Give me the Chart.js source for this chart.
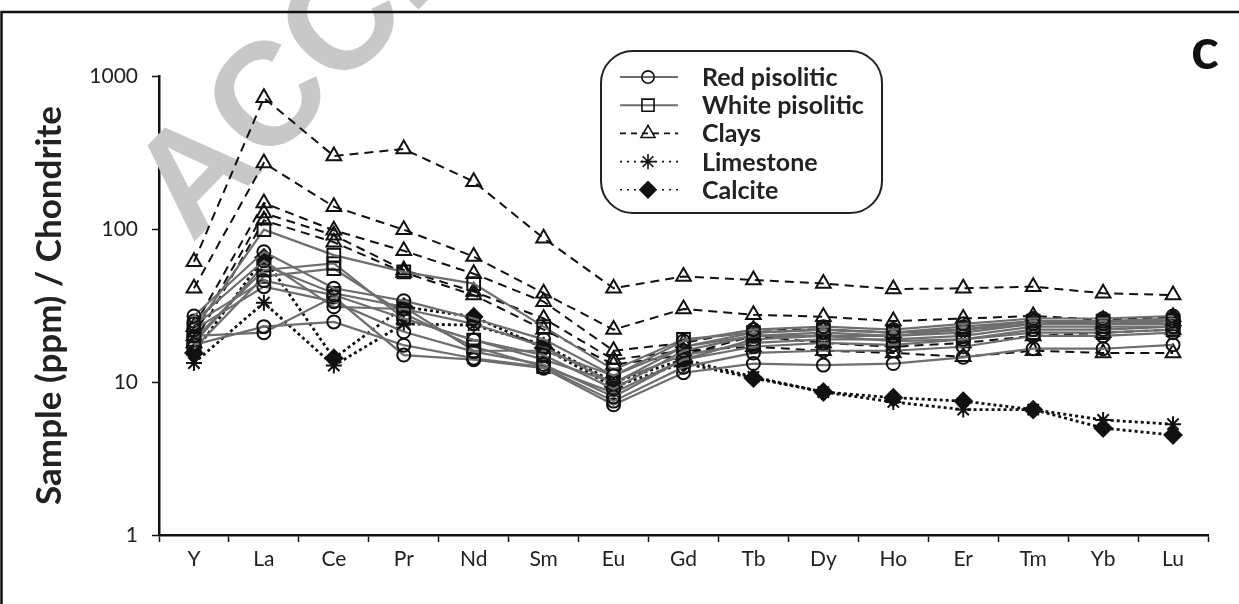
<!DOCTYPE html>
<html>
<head>
<meta charset="utf-8">
<script src="https://cdn.jsdelivr.net/npm/chart.js@4.4.1/dist/chart.umd.min.js"></script>
<style>
  html, body { margin: 0; padding: 0; background: #fff; }
  canvas { display: block; }
</style>
</head>
<body>
<canvas id="reeChart" width="1239" height="604"></canvas>
<script>
// REE normalizados a condrito
const elements = ['Y', 'La', 'Ce', 'Pr', 'Nd', 'Sm', 'Eu', 'Gd', 'Tb', 'Dy', 'Ho', 'Er', 'Tm', 'Yb', 'Lu'];
const yTicks = [1, 10, 100, 1000];

// Bauxita pisolítica roja (una fila por muestra)
const redPisolitic = [
    [27, 71, 41, 34, 26, 19, 11, 18.5, 22, 23, 22, 24, 26, 26, 27],
    [24, 46, 37, 26, 18.8, 15, 9, 16, 20, 21, 20, 22, 24, 24, 25],
    [22, 42, 33.5, 21.3, 15.8, 13, 8, 14, 17, 18, 17.5, 19, 22, 22, 23],
    [17.5, 23, 24.7, 17.4, 14.3, 12.5, 7.5, 12.5, 15.5, 16, 16, 17, 20, 20, 21],
    [20, 21, 36, 15, 14, 12.3, 7.1, 11.5, 13.2, 12.9, 13.2, 14.5, 16.5, 16.5, 17.5],
    [25, 62, 31, 30, 24, 17, 9.8, 17, 21, 22, 21, 23, 25, 25, 26]
];

// Bauxita pisolítica blanca
const whitePisolitic = [
    [22, 99, 67.5, 52.5, 44, 23, 12, 19, 21, 22, 21, 22, 25, 24, 24],
    [19, 54, 59.5, 26, 18.8, 14, 10, 15, 18, 19, 19, 20, 23, 23, 23],
    [16.5, 49, 55, 28, 17, 12.6, 8.5, 14, 19, 20, 18.5, 19, 21, 21, 22],
    [18, 58, 38, 31, 16, 16, 11, 17, 20, 20, 20, 21, 24, 25, 25]
];

// Arcillas
const clays = [
    [61, 720, 300, 333, 204, 87, 41, 49, 46.5, 44, 40.5, 41, 42, 38, 37],
    [41, 270, 140, 99, 66, 38, 22, 30, 27.5, 26.7, 25, 26, 27, 25.5, 26.7],
    [23, 148, 98, 72, 51, 33.5, 16, 18, 22, 22, 21, 22, 25, 24, 25],
    [20, 127, 91, 54, 39, 26, 14, 16, 17, 16, 15.5, 14.6, 16, 15.5, 15.5],
    [18, 114, 82, 52, 37, 22, 13, 15, 20, 18, 17, 18, 20, 21, 22]
];

const limestone = [13.3, 33, 12.8, 24, 23.5, 17.5, 10, 14, 10.8, 8.6, 7.4, 6.6, 6.6, 5.65, 5.3];
const calcite = [15.5, 65, 14.3, 31, 26.7, 16.7, 9.3, 13.3, 10.6, 8.6, 7.9, 7.5, 6.6, 5.0, 4.5];

// Estilo de cada grupo (también se usa para la leyenda)
const grupos = [
    { label: 'Red pisolitic', series: redPisolitic, line: '#6e6e6e', width: 2.2, dash: [], legendDash: [],
      pointStyle: 'circle', radius: 6.5, fill: 'rgba(0,0,0,0)' },
    { label: 'White pisolitic', series: whitePisolitic, line: '#6e6e6e', width: 2.2, dash: [], legendDash: [],
      pointStyle: 'rect', radius: 9, fill: 'rgba(0,0,0,0)' },
    { label: 'Clays', series: clays, line: '#111', width: 2, dash: [9, 6], legendDash: [6, 5],
      pointStyle: 'triangle', radius: 8.5, fill: 'rgba(0,0,0,0)' },
    { label: 'Limestone', series: [limestone], line: '#111', width: 2.8, dash: [3, 3], legendDash: [2, 5],
      pointStyle: 'star', radius: 8, fill: 'rgba(0,0,0,0)' },
    { label: 'Calcite', series: [calcite], line: '#111', width: 2.8, dash: [3, 3], legendDash: [2, 5],
      pointStyle: 'rectRot', radius: 8.5, fill: '#111' }
];

const datasets = [];
grupos.forEach(g => {
    g.series.forEach(valores => {
        datasets.push({
            label: g.label,
            data: valores,
            borderColor: g.line,
            borderWidth: g.width,
            borderDash: g.dash,
            pointStyle: g.pointStyle,
            pointRadius: g.radius,
            pointHoverRadius: g.radius,
            pointBorderColor: '#111',
            pointBorderWidth: 2,
            pointBackgroundColor: g.fill,
            tension: 0,
            fill: false
        });
    });
});

const fuenteTexto = "Lato, 'Open Sans', 'DejaVu Sans', sans-serif";

// Marca de agua gris detrás de las series
const marcaAgua = {
    id: 'marcaAgua',
    beforeDatasetsDraw(chart) {
        const ctx = chart.ctx;
        ctx.save();
        ctx.translate(192, 244);
        ctx.rotate(-46 * Math.PI / 180);
        ctx.font = "bold 146px 'Liberation Sans', Arial, sans-serif";
        ctx.fillStyle = '#c8c8c8';
        ctx.textBaseline = 'alphabetic';
        ctx.fillText('ACCEPTED MANUSCRIPT', 0, 0);
        ctx.restore();
    }
};

// Marco, leyenda y letra del panel
const decoracion = {
    id: 'decoracion',
    afterDraw(chart) {
        const ctx = chart.ctx;
        ctx.save();

        // marco (solo se ven el borde superior e izquierdo)
        ctx.strokeStyle = '#111';
        ctx.lineWidth = 2.5;
        ctx.beginPath();
        ctx.moveTo(1.5, 700);
        ctx.lineTo(1.5, 12);
        ctx.lineTo(1300, 12);
        ctx.stroke();

        // letra del panel
        ctx.fillStyle = '#111';
        ctx.font = "bold 58px " + fuenteTexto;
        ctx.textAlign = 'center';
        ctx.textBaseline = 'alphabetic';
        ctx.fillText('c', 1205, 69);

        // caja de la leyenda
        const bx = 601, by = 51, bw = 281, bh = 162, r = 32;
        ctx.beginPath();
        ctx.moveTo(bx + r, by);
        ctx.arcTo(bx + bw, by, bx + bw, by + bh, r);
        ctx.arcTo(bx + bw, by + bh, bx, by + bh, r);
        ctx.arcTo(bx, by + bh, bx, by, r);
        ctx.arcTo(bx, by, bx + bw, by, r);
        ctx.closePath();
        ctx.fillStyle = '#fff';
        ctx.fill();
        ctx.lineWidth = 2;
        ctx.strokeStyle = '#222';
        ctx.stroke();

        grupos.forEach((g, i) => {
            const y = 77 + i * 28.2;
            ctx.beginPath();
            ctx.setLineDash(g.legendDash);
            ctx.strokeStyle = g.line;
            ctx.lineWidth = g.dash.length ? 1.6 : 2;
            ctx.moveTo(620, y);
            ctx.lineTo(678, y);
            ctx.stroke();
            ctx.setLineDash([]);

            ctx.strokeStyle = '#111';
            ctx.fillStyle = g.fill;
            ctx.lineWidth = 1.6;
            if (g.fill === '#111') {
                ctx.fillStyle = '#fff';
                ctx.fillRect(640, y - 9, 17, 18);
                ctx.fillStyle = g.fill;
            }
            Chart.helpers.drawPoint(ctx, {
                pointStyle: g.pointStyle,
                radius: g.radius * 0.95,
                rotation: 0,
                borderWidth: 1.6
            }, 648, y);

            ctx.fillStyle = '#222';
            ctx.font = "bold 25px " + fuenteTexto;
            ctx.textAlign = 'left';
            ctx.textBaseline = 'middle';
            ctx.fillText(g.label, 702, y + 1);
        });
        ctx.restore();
    }
};

new Chart(document.getElementById('reeChart'), {
    type: 'line',
    data: { labels: elements, datasets: datasets },
    options: {
        responsive: false,
        animation: false,
        devicePixelRatio: 1,
        layout: { padding: { top: 76, right: 31, left: 0, bottom: 0 } },
        plugins: {
            legend: { display: false },
            tooltip: { enabled: false }
        },
        scales: {
            x: {
                type: 'category',
                offset: true,
                afterFit: scale => { scale.height = 69; },
                grid: {
                    offset: true,
                    drawOnChartArea: false,
                    drawTicks: true,
                    tickLength: 7,
                    tickWidth: 1.5,
                    tickColor: '#111'
                },
                border: { display: true, color: '#111', width: 2.5 },
                ticks: {
                    color: '#222',
                    padding: 5,
                    maxRotation: 0,
                    autoSkip: false,
                    font: { family: fuenteTexto, size: 21 }
                }
            },
            y: {
                type: 'logarithmic',
                min: 1,
                max: 1000,
                afterFit: scale => { scale.width = 159; },
                afterBuildTicks: scale => {
                    scale.ticks = yTicks.map(v => ({ value: v, major: true }));
                },
                grid: {
                    drawOnChartArea: false,
                    drawTicks: true,
                    tickLength: 7,
                    tickWidth: 1.5,
                    tickColor: '#111'
                },
                border: { display: true, color: '#111', width: 2.5 },
                ticks: {
                    color: '#222',
                    padding: 14,
                    font: { family: fuenteTexto, size: 21 },
                    callback: v => String(v)
                },
                title: {
                    display: true,
                    text: 'Sample (ppm) / Chondrite',
                    color: '#222',
                    font: { family: fuenteTexto, size: 35, weight: 'bold' },
                    padding: { top: 29, bottom: 0 }
                }
            }
        }
    },
    plugins: [marcaAgua, decoracion]
});
</script>
</body>
</html>
